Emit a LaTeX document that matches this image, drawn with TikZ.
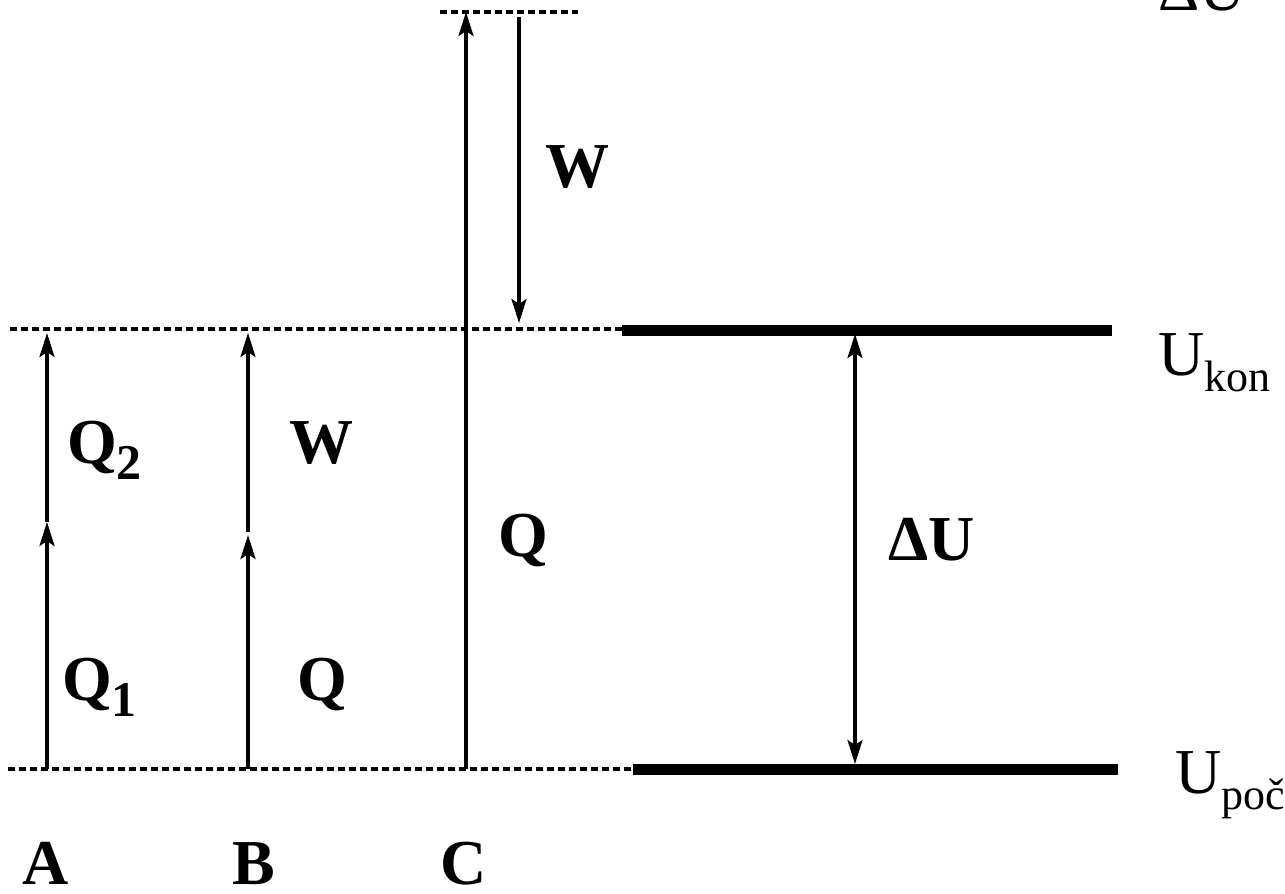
\documentclass[tikz,border=0pt]{standalone}
\usepackage{fontspec}
\setmainfont{Liberation Serif}
\usetikzlibrary{arrows.meta}
\tikzset{
  arr/.style={line width=3.5pt, -{Stealth[length=24pt,width=15pt,inset=5pt]}},
  darr/.style={line width=3.5pt, {Stealth[length=24pt,width=15pt,inset=5pt]}-{Stealth[length=24pt,width=15pt,inset=5pt]}},
  dashln/.style={line width=3.2pt, dash pattern=on 6.5pt off 4.5pt},
  levelln/.style={line width=11pt},
  lbl/.style={inner sep=0pt, anchor=base west, font=\fontsize{64}{64}\selectfont\bfseries},
  ulbl/.style={inner sep=0pt, anchor=base west, font=\fontsize{64}{64}\selectfont},
}
\newcommand{\bsub}[1]{\raisebox{-16pt}{\fontsize{50}{50}\selectfont #1}}
\newcommand{\rsub}[1]{\raisebox{-16pt}{\fontsize{44}{44}\selectfont #1}}
\begin{document}
\begin{tikzpicture}[x=1pt,y=-1pt]
\useasboundingbox (0,0) rectangle (1285,894);
% dashed reference lines
\coordinate (t0) at (440,12); \coordinate (t1) at (578,12);
\coordinate (m0) at (10,329); \coordinate (m1) at (622,329);
\coordinate (b0) at (8,769); \coordinate (b1) at (633,769);
\draw[dashln] (t0) -- (t1);
\draw[dashln] (m0) -- (m1);
\draw[dashln] (b0) -- (b1);
% energy levels
\coordinate (k0) at (622,330); \coordinate (k1) at (1112,330);
\coordinate (p0) at (633,769); \coordinate (p1) at (1118,769);
\draw[levelln] (k0) -- (k1);
\draw[levelln] (p0) -- (p1);
% path A
\coordinate (a0) at (47,769); \coordinate (a1) at (47,522); \coordinate (a2) at (47,333);
\draw[arr] (a0) -- (a1);
\draw[arr] (a1) -- (a2);
% path B
\coordinate (bb0) at (248,769); \coordinate (bb1) at (248,535); \coordinate (bb2) at (248,532); \coordinate (bb3) at (248,333);
\draw[arr] (bb0) -- (bb1);
\draw[arr] (bb2) -- (bb3);
% path C
\coordinate (c0) at (466,769); \coordinate (c1) at (466,12);
\draw[arr] (c0) -- (c1);
\coordinate (w0) at (519,17); \coordinate (w1) at (519,323);
\draw[arr] (w0) -- (w1);
% Delta U
\coordinate (d0) at (855,334); \coordinate (d1) at (855,764);
\draw[darr] (d0) -- (d1);
% labels
\node[lbl] (lQ2) at (67,463) {Q\bsub{2}};
\node[lbl] (lW1) at (289,463) {W};
\node[lbl] (lQ1) at (62,700) {Q\bsub{1}};
\node[lbl] (lQb) at (297,700) {Q};
\node[lbl] (lQc) at (498,556) {Q};
\node[lbl] (lWt) at (545,187) {W};
\node[lbl] (lDU) at (888,560) {ΔU};
\node[lbl] (lA) at (22,884) {A};
\node[lbl] (lB) at (232,884) {B};
\node[lbl] (lC) at (440,884) {C};
\node[ulbl] (lUk) at (1158,375) {U\rsub{kon}};
\node[ulbl] (lUp) at (1175,793) {U\rsub{poč}};
\node[ulbl] (lDt) at (1158,10) {ΔU};
\end{tikzpicture}
\end{document}
